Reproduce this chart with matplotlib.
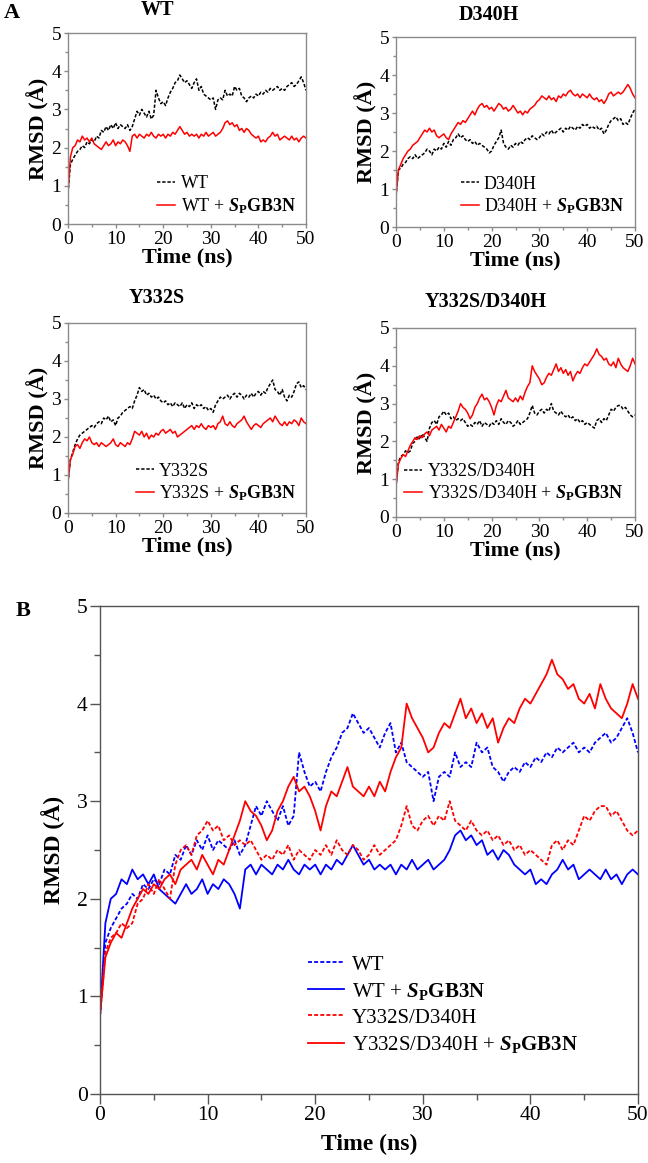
import numpy as np
import matplotlib
matplotlib.use("Agg")
import matplotlib.pyplot as plt
from matplotlib.ticker import MultipleLocator

plt.rcParams['font.family'] = ['Liberation Serif', 'DejaVu Serif']
plt.rcParams['mathtext.fontset'] = 'custom'
plt.rcParams['mathtext.rm'] = 'Liberation Serif'
plt.rcParams['mathtext.bf'] = 'Liberation Serif:bold'
plt.rcParams['mathtext.it'] = 'Liberation Serif:italic'
plt.rcParams['mathtext.bfit'] = 'Liberation Serif:bold:italic'

# ---------------- data (RMSD in Angstrom, every 0.5 ns) ----------------
time_ns = np.arange(0, 50.01, 0.5)

wt = [0.80, 1.55, 1.70, 1.80, 1.90, 1.95, 2.05, 2.00, 2.15, 2.10, 2.20, 2.15, 2.30, 2.25, 2.45, 2.40,
      2.55, 2.45, 2.60, 2.50, 2.65, 2.50, 2.60, 2.55, 2.50, 2.60, 2.45, 2.55, 2.75, 2.95, 2.85, 3.00,
      2.90, 2.80, 2.95, 2.75, 2.85, 3.50, 3.30, 3.15, 3.20, 3.10, 3.30, 3.45, 3.55, 3.70, 3.75, 3.90,
      3.80, 3.70, 3.75, 3.65, 3.55, 3.70, 3.80, 3.50, 3.60, 3.40, 3.35, 3.30, 3.25, 3.30, 3.00, 3.25,
      3.30, 3.25, 3.50, 3.35, 3.40, 3.35, 3.60, 3.50, 3.55, 3.35, 3.30, 3.20, 3.30, 3.35, 3.30, 3.40,
      3.35, 3.45, 3.40, 3.50, 3.45, 3.55, 3.50, 3.55, 3.60, 3.50, 3.55, 3.50, 3.60, 3.65, 3.70, 3.60,
      3.65, 3.75, 3.85, 3.70, 3.50]
wt_sp = [0.80, 1.75, 2.00, 2.05, 2.20, 2.15, 2.30, 2.20, 2.25, 2.15, 2.25, 2.10, 2.05, 2.00, 1.95, 2.05,
         2.15, 2.05, 2.10, 2.20, 2.05, 2.15, 2.10, 2.20, 2.15, 2.05, 1.90, 2.30, 2.35, 2.25, 2.35, 2.30,
         2.25, 2.35, 2.30, 2.40, 2.30, 2.25, 2.35, 2.30, 2.35, 2.25, 2.35, 2.30, 2.40, 2.35, 2.45, 2.55,
         2.45, 2.35, 2.40, 2.30, 2.35, 2.30, 2.35, 2.25, 2.35, 2.30, 2.40, 2.30, 2.35, 2.40, 2.30, 2.35,
         2.40, 2.50, 2.65, 2.70, 2.60, 2.65, 2.55, 2.60, 2.45, 2.50, 2.40, 2.50, 2.45, 2.35, 2.30, 2.25,
         2.30, 2.15, 2.20, 2.15, 2.25, 2.30, 2.40, 2.30, 2.35, 2.20, 2.25, 2.30, 2.25, 2.20, 2.30, 2.20,
         2.25, 2.15, 2.25, 2.30, 2.25]
d340h = [0.80, 1.50, 1.55, 1.65, 1.70, 1.80, 1.85, 1.80, 1.90, 1.80, 1.85, 1.90, 1.95, 2.05, 2.00, 1.90,
         2.05, 2.00, 2.10, 2.05, 2.20, 2.10, 2.25, 2.15, 2.30, 2.35, 2.45, 2.35, 2.40, 2.30, 2.25, 2.30,
         2.20, 2.25, 2.15, 2.20, 2.15, 2.10, 2.05, 1.95, 2.00, 2.15, 2.25, 2.35, 2.55, 2.20, 2.10, 2.05,
         2.15, 2.10, 2.20, 2.15, 2.25, 2.20, 2.30, 2.35, 2.30, 2.40, 2.35, 2.30, 2.35, 2.45, 2.40, 2.50,
         2.45, 2.55, 2.45, 2.50, 2.55, 2.60, 2.50, 2.60, 2.55, 2.65, 2.60, 2.55, 2.65, 2.60, 2.70, 2.65,
         2.70, 2.60, 2.65, 2.60, 2.65, 2.55, 2.60, 2.45, 2.55, 2.70, 2.80, 2.85, 2.90, 2.80, 2.85, 2.70,
         2.75, 2.70, 2.85, 3.00, 3.10]
d340h_sp = [0.80, 1.50, 1.65, 1.80, 1.90, 2.00, 2.05, 2.15, 2.20, 2.25, 2.35, 2.45, 2.55, 2.50, 2.60, 2.50,
            2.55, 2.40, 2.35, 2.40, 2.45, 2.35, 2.30, 2.45, 2.55, 2.65, 2.75, 2.70, 2.80, 2.75, 2.85, 2.95,
            3.05, 2.95, 3.10, 3.20, 3.25, 3.15, 3.20, 3.10, 3.15, 3.05, 3.15, 3.25, 3.20, 3.10, 3.15, 3.05,
            3.10, 3.20, 3.10, 3.00, 3.05, 2.95, 3.05, 3.00, 3.10, 3.15, 3.20, 3.30, 3.35, 3.45, 3.40, 3.35,
            3.45, 3.35, 3.40, 3.30, 3.45, 3.40, 3.50, 3.45, 3.55, 3.60, 3.50, 3.45, 3.50, 3.40, 3.50, 3.45,
            3.40, 3.50, 3.40, 3.35, 3.40, 3.30, 3.35, 3.25, 3.35, 3.50, 3.55, 3.45, 3.50, 3.55, 3.50, 3.55,
            3.65, 3.75, 3.65, 3.50, 3.40]
y332s = [0.80, 1.40, 1.60, 1.80, 1.95, 2.05, 2.10, 2.15, 2.20, 2.25, 2.30, 2.25, 2.35, 2.40, 2.35, 2.50,
         2.45, 2.55, 2.40, 2.45, 2.30, 2.50, 2.55, 2.65, 2.70, 2.75, 2.80, 2.75, 2.95, 3.10, 3.30, 3.20,
         3.25, 3.10, 3.15, 3.05, 3.10, 3.00, 3.05, 2.95, 2.90, 2.95, 2.85, 2.90, 2.80, 2.90, 2.85, 2.80,
         2.90, 2.75, 2.85, 2.80, 2.90, 2.75, 2.85, 2.80, 2.85, 2.75, 2.80, 2.70, 2.75, 2.65, 2.85, 2.95,
         3.05, 3.00, 3.05, 3.10, 3.00, 3.10, 3.15, 3.05, 3.15, 3.10, 3.00, 3.10, 3.05, 3.15, 3.05, 3.15,
         3.20, 3.10, 3.20, 3.15, 3.30, 3.40, 3.50, 3.25, 3.20, 3.10, 3.25, 3.05, 2.95, 3.10, 3.05, 3.20,
         3.40, 3.45, 3.30, 3.35, 3.25]
y332s_sp = [0.80, 1.40, 1.55, 1.75, 1.80, 1.70, 1.85, 1.95, 1.90, 2.00, 1.85, 1.80, 1.85, 1.75, 1.85, 1.80,
            1.75, 1.80, 1.85, 1.95, 1.80, 1.75, 1.85, 1.80, 1.75, 1.85, 1.80, 1.95, 2.15, 2.10, 2.05, 2.15,
            2.00, 2.10, 1.95, 2.05, 2.00, 2.10, 2.05, 2.15, 2.20, 2.10, 2.15, 2.20, 2.10, 2.15, 2.00, 2.05,
            2.10, 2.15, 2.20, 2.25, 2.30, 2.20, 2.30, 2.25, 2.35, 2.25, 2.20, 2.30, 2.25, 2.30, 2.20, 2.35,
            2.40, 2.55, 2.35, 2.30, 2.40, 2.30, 2.25, 2.35, 2.40, 2.45, 2.55, 2.40, 2.30, 2.20, 2.30, 2.35,
            2.30, 2.25, 2.35, 2.40, 2.45, 2.50, 2.40, 2.55, 2.45, 2.35, 2.30, 2.40, 2.30, 2.40, 2.35, 2.45,
            2.40, 2.30, 2.50, 2.40, 2.35]
yd = [0.80, 1.45, 1.60, 1.65, 1.75, 1.70, 1.75, 1.95, 2.00, 2.15, 2.05, 2.20, 2.10, 2.00, 2.35, 2.50,
      2.55, 2.45, 2.65, 2.70, 2.80, 2.70, 2.75, 2.60, 2.65, 2.55, 2.60, 2.55, 2.60, 2.50, 2.40, 2.45,
      2.40, 2.50, 2.45, 2.55, 2.40, 2.50, 2.45, 2.40, 2.50, 2.45, 2.55, 2.45, 2.60, 2.50, 2.45, 2.55,
      2.50, 2.40, 2.45, 2.55, 2.45, 2.50, 2.55, 2.60, 2.75, 2.95, 2.75, 2.70, 2.80, 2.85, 2.75, 2.85,
      2.80, 3.00, 2.80, 2.75, 2.70, 2.80, 2.70, 2.65, 2.70, 2.60, 2.65, 2.55, 2.60, 2.50, 2.55, 2.45,
      2.50, 2.45, 2.40, 2.35, 2.55, 2.60, 2.50, 2.60, 2.55, 2.70, 2.85, 2.80, 2.90, 2.95, 2.95, 2.85,
      2.90, 2.80, 2.70, 2.65, 2.70]
yd_sp = [0.80, 1.40, 1.55, 1.65, 1.60, 1.75, 1.90, 2.00, 2.10, 2.05, 2.15, 2.10, 2.20, 2.25, 2.15, 2.30,
         2.35, 2.40, 2.30, 2.45, 2.35, 2.25, 2.40, 2.35, 2.50, 2.65, 2.80, 3.00, 2.90, 2.85, 2.75, 2.60,
         2.70, 2.90, 3.00, 3.15, 3.25, 3.10, 3.15, 3.05, 2.90, 2.70, 2.95, 3.10, 3.05, 3.20, 3.35, 3.15,
         3.10, 3.05, 3.15, 3.05, 3.20, 3.10, 3.30, 3.45, 3.55, 4.00, 3.85, 3.75, 3.65, 3.50, 3.55, 3.70,
         3.80, 3.75, 3.90, 4.05, 3.85, 3.95, 3.80, 3.90, 3.75, 3.85, 3.60, 3.75, 3.85, 3.80, 3.95, 4.05,
         4.00, 4.10, 4.20, 4.30, 4.45, 4.30, 4.25, 4.15, 4.20, 4.05, 4.00, 4.10, 3.95, 4.20, 4.05, 3.95,
         3.90, 3.85, 4.00, 4.20, 4.05]

sp_tag = r'$\mathbfit{S}_{\mathbf{P}}\mathbf{GB3N}$'
panelA = [
    ("WT", wt, wt_sp),
    ("D340H", d340h, d340h_sp),
    ("Y332S", y332s, y332s_sp),
    ("Y332S/D340H", yd, yd_sp),
]
panelB = [
    ("WT", wt, 'blue', 'dash'),
    ("WT + " + sp_tag, wt_sp, 'blue', 'solid'),
    ("Y332S/D340H", yd, 'red', 'dash'),
    ("Y332S/D340H + " + sp_tag, yd_sp, 'red', 'solid'),
]

W, H = 648, 1163
fig = plt.figure(figsize=(W / 100, H / 100), dpi=100)


def px_axes(l, t, r, b):
    return fig.add_axes([l / W, 1 - b / H, (r - l) / W, (b - t) / H])


def style_axes(ax, spine_col, maj_len, min_len, tick_fs):
    ax.set_xlim(0, 50)
    ax.set_ylim(0, 5)
    ax.xaxis.set_major_locator(MultipleLocator(10))
    ax.xaxis.set_minor_locator(MultipleLocator(5))
    ax.yaxis.set_major_locator(MultipleLocator(1))
    ax.yaxis.set_minor_locator(MultipleLocator(0.5))
    for s in ax.spines.values():
        s.set_color(spine_col)
        s.set_linewidth(1.0)
    ax.tick_params(which='major', direction='out', length=maj_len, width=1.0,
                   color=spine_col, labelsize=tick_fs, pad=2)
    ax.tick_params(which='minor', direction='out', length=min_len, width=1.0, color=spine_col)


dash = (0, (2.2, 1.2))

# Panel A boxes (left, top, right, bottom) in px
boxA = [(68, 33, 306, 224), (396, 37, 635, 227), (68, 323, 306, 513), (396, 328, 635, 517)]
titlesA = [(157, 10), (489, 15), (157, 298), (486, 302)]
legA = [(0.375, 0.255), (0.27, 0.27), (0.285, 0.265), (0.035, 0.285)]

for (name, ref, lig), box, (tx, ty), (lx, ly) in zip(panelA, boxA, titlesA, legA):
    ax = px_axes(*box)
    ax.plot(time_ns, ref, color='black', lw=1.1, ls=dash, label=name)
    ax.plot(time_ns, lig, color='red', lw=1.1, label=name + " + " + sp_tag)
    style_axes(ax, '#8a8a8a', 3, 2, 14)
    ax.set_xlabel("Time (ns)", fontsize=16, fontweight='bold', labelpad=0)
    ax.set_ylabel("RMSD (Å)", fontsize=16, fontweight='bold', labelpad=1)
    ax.legend(loc='upper left', bbox_to_anchor=(lx, ly), frameon=False, fontsize=13,
              handlelength=1.0, handletextpad=0.3, borderpad=0, borderaxespad=0,
              labelspacing=0.2)
    fig.text(tx / W, 1 - ty / H, name, ha='center', va='center', fontsize=14.5, fontweight='bold')

fig.text(12 / W, 1 - 13 / H, "A", ha='center', va='center', fontsize=16, fontweight='bold')
fig.text(23 / W, 1 - 611 / H, "B", ha='center', va='center', fontsize=16, fontweight='bold')

# Panel B
axB = px_axes(100, 606, 638, 1094)
for label, vals, col, st in panelB:
    axB.plot(time_ns, vals, color=col, lw=1.3, ls=dash if st == 'dash' else '-', label=label)
style_axes(axB, '#555555', 7, 4, 15.5)
axB.set_xlabel("Time (ns)", fontsize=17, fontweight='bold', labelpad=6)
axB.set_ylabel("RMSD (Å)", fontsize=17, fontweight='bold', labelpad=8)
axB.legend(loc='upper left', bbox_to_anchor=(0.387, 0.285), frameon=False, fontsize=15,
           handlelength=1.7, handletextpad=0.4, borderpad=0, borderaxespad=0,
           labelspacing=0.3)

fig.savefig("out.png", dpi=100)
